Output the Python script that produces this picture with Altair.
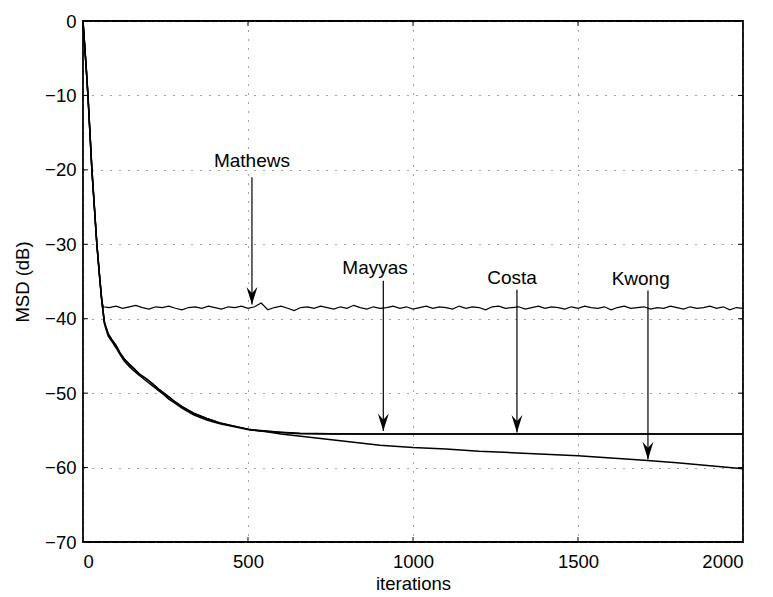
import altair as alt
import pandas as pd

# ---------------- data ----------------
# shared initial fast descent (all algorithms)
common_it = [0, 10, 15, 27, 42, 50, 57]
common_val = [0.0, -6.5, -10.0, -20.0, -30.0, -34.2, -37.6]

# Mathews: noisy steady state around -38.5 dB
mathews_it = [62] + list(range(80, 2001, 20))
mathews_val = [-38.4,
    -38.5, -38.3, -38.6, -38.4, -38.2, -38.5, -38.7, -38.4, -38.5, -38.3,
    -38.6, -38.8, -38.5, -38.4, -38.6, -38.3, -38.5, -38.7, -38.4, -38.5,
    -38.3, -38.6, -38.4, -37.9, -38.8, -38.5, -38.3, -38.6, -38.9, -38.5,
    -38.4, -38.6, -38.3, -38.5, -38.7, -38.4, -38.6, -38.2, -38.5, -38.7,
    -38.4, -38.6, -38.5, -38.3, -38.6, -38.4, -38.7, -38.5, -38.3, -38.6,
    -38.4, -38.5, -38.7, -38.3, -38.6, -38.4, -38.5, -38.8, -38.4, -38.3,
    -38.6, -38.5, -38.4, -38.7, -38.5, -38.3, -38.6, -38.4, -38.5, -38.7,
    -38.4, -38.6, -38.3, -38.5, -38.6, -38.4, -38.8, -38.5, -38.3, -38.6,
    -38.5, -38.4, -38.7, -38.5, -38.6, -38.3, -38.5, -38.7, -38.4, -38.6,
    -38.5, -38.3, -38.6, -38.4, -38.8, -38.5, -38.6]

# Costa: converges to about -55.5 dB
costa_it = [65, 76, 90, 100, 112, 125, 140, 152, 170, 193, 210, 230, 245, 260,
            274, 300, 335, 375, 415, 455, 506, 557, 600, 658, 750, 850, 1000,
            1500, 2000]
costa_val = [-40.5, -42.0, -43.0, -43.6, -44.6, -45.4, -46.1, -46.6, -47.4,
             -48.1, -48.7, -49.5, -50.0, -50.5, -51.0, -51.8, -52.7, -53.4,
             -54.0, -54.4, -54.9, -55.1, -55.25, -55.4, -55.45, -55.5, -55.5,
             -55.5, -55.5]

# Mayyas: almost the same as Costa
mayyas_it = costa_it
mayyas_val = [-40.7, -42.3, -43.2, -43.9, -44.8, -45.7, -46.4, -46.9, -47.6,
              -48.4, -49.0, -49.7, -50.2, -50.8, -51.2, -52.0, -52.9, -53.6,
              -54.1, -54.5, -54.95, -55.15, -55.3, -55.45, -55.5, -55.5, -55.5,
              -55.5, -55.5]

# Kwong: keeps decreasing to about -60 dB
kwong_it = costa_it[:21] + [557, 600, 700, 800, 900, 1000, 1100, 1200, 1300,
                            1400, 1500, 1600, 1700, 1800, 1900, 2000]
kwong_val = costa_val[:21] + [-55.2, -55.5, -56.0, -56.5, -57.0, -57.3, -57.5,
                              -57.8, -58.0, -58.2, -58.4, -58.7, -59.0, -59.35,
                              -59.75, -60.15]

# annotations
ann_labels = ["Mathews", "Mayyas", "Costa", "Kwong"]
ann_text_x = [512, 885, 1300, 1690]
ann_text_y = [-18.8, -33.2, -34.5, -34.7]
ann_arrow_x = [512, 910, 1315, 1712]
ann_arrow_top = [-21.0, -34.9, -36.1, -36.2]
ann_arrow_tip = [-38.1, -55.1, -55.3, -58.9]

x_ticks = [0, 500, 1000, 1500, 2000]
y_ticks = [-70, -60, -50, -40, -30, -20, -10, 0]
x_inner = [500, 1000, 1500]
y_inner = [-60, -50, -40, -30, -20, -10]

# ---------------- tables ----------------
def series(name, its, vals):
    return pd.DataFrame({"it": common_it + its, "val": common_val + vals, "s": name})

curves = pd.concat([
    series("Costa", costa_it, costa_val),
    series("Mayyas", mayyas_it, mayyas_val),
    series("Kwong", kwong_it, kwong_val),
])
math_df = series("Mathews", mathews_it, mathews_val)

ann = pd.DataFrame({"label": ann_labels, "tx": ann_text_x, "ty": ann_text_y,
                    "ax": ann_arrow_x, "atop": ann_arrow_top, "atip": ann_arrow_tip})

FONT = "Liberation Sans"
xs = alt.Scale(domain=[0, 2000], nice=False, zero=False)
ys = alt.Scale(domain=[-70, 0], nice=False, zero=False)

xax = alt.Axis(values=x_ticks, title="iterations", grid=True, labelPadding=10,
               titlePadding=4, format="d")
yax = alt.Axis(values=y_ticks, title="MSD (dB)", grid=True, labelPadding=7,
               titlePadding=12, format="d")

base_lines = alt.Chart(curves).mark_line(color="black", strokeWidth=1.5).encode(
    x=alt.X("it:Q", scale=xs, axis=xax),
    y=alt.Y("val:Q", scale=ys, axis=yax),
    detail="s:N",
    order="it:Q",
)

math_line = alt.Chart(math_df).mark_line(color="black", strokeWidth=1.2).encode(
    x=alt.X("it:Q", scale=xs), y=alt.Y("val:Q", scale=ys), order="it:Q"
)

# inward ticks (MATLAB style)
ytick_df = pd.DataFrame({"v": y_inner})
xtick_df = pd.DataFrame({"v": x_inner})
tick_len_x = 15      # iterations (~5 px)
tick_len_y = 0.67    # dB (~5 px)

yt_left = alt.Chart(ytick_df).mark_rule(color="black", strokeWidth=1).encode(
    y=alt.Y("v:Q", scale=ys), x=alt.datum(0, scale=xs), x2=alt.datum(tick_len_x))
yt_right = alt.Chart(ytick_df).mark_rule(color="black", strokeWidth=1).encode(
    y=alt.Y("v:Q", scale=ys), x=alt.datum(2000 - tick_len_x, scale=xs), x2=alt.datum(2000))
xt_bot = alt.Chart(xtick_df).mark_rule(color="black", strokeWidth=1).encode(
    x=alt.X("v:Q", scale=xs), y=alt.datum(-70, scale=ys), y2=alt.datum(-70 + tick_len_y))
xt_top = alt.Chart(xtick_df).mark_rule(color="black", strokeWidth=1).encode(
    x=alt.X("v:Q", scale=xs), y=alt.datum(-tick_len_y, scale=ys), y2=alt.datum(0))

texts = alt.Chart(ann).mark_text(font=FONT, fontSize=19, color="black",
                                 align="center", baseline="middle").encode(
    x=alt.X("tx:Q", scale=xs), y=alt.Y("ty:Q", scale=ys), text="label:N")

arrows = alt.Chart(ann).mark_rule(color="black", strokeWidth=1.2).encode(
    x=alt.X("ax:Q", scale=xs), y=alt.Y("atop:Q", scale=ys), y2="atip:Q")

heads = alt.Chart(ann).mark_point(
    shape="M0,1L-0.62,-1L0,-0.3L0.62,-1Z", filled=True, color="black",
    opacity=1, size=310, yOffset=-8.8, strokeWidth=0).encode(
    x=alt.X("ax:Q", scale=xs), y=alt.Y("atip:Q", scale=ys))

chart = alt.layer(
    math_line, base_lines, yt_left, yt_right, xt_bot, xt_top, arrows, heads, texts
).properties(
    width=660, height=521,
    padding={"left": 83, "top": 21, "right": 30, "bottom": 55},
    autosize=alt.AutoSizeParams(type="none"),
    background="white",
).configure_view(
    stroke="black", strokeWidth=1.8
).configure_axis(
    labelFont=FONT, labelFontSize=18.5, labelColor="black",
    titleFont=FONT, titleFontSize=18.5, titleFontWeight="normal", titleColor="black",
    domain=False, ticks=False, tickSize=0,
    gridColor="#444444", gridDash=[1, 8], gridWidth=1, gridOpacity=1,
)

chart.save("out.html", embed_options={"renderer": "svg", "actions": False})
